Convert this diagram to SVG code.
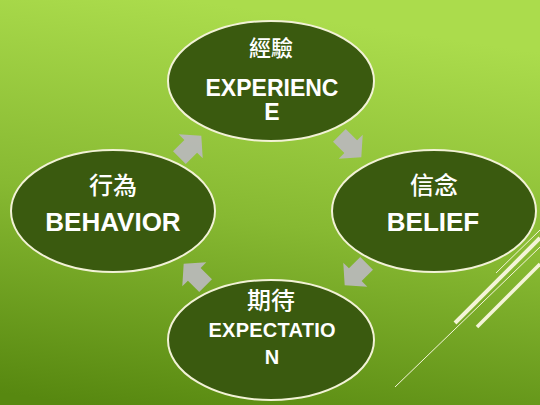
<svg xmlns="http://www.w3.org/2000/svg" width="540" height="405" viewBox="0 0 540 405">
  <defs>
    <linearGradient id="bg" x1="0.35" y1="0" x2="0.15" y2="1">
      <stop offset="0" stop-color="#abdc4c"/>
      <stop offset="0.5" stop-color="#87b932"/>
      <stop offset="1" stop-color="#578810"/>
    </linearGradient>
    <path id="arr" d="M -15 -9 L 1 -9 L 1 -17 L 16 0 L 1 17 L 1 9 L -15 9 Z"/>
  </defs>
  <style>
    .node { fill: #3a5a0f; stroke: #f2f2d6; stroke-width: 2; }
    .en { fill: #ffffff; font-family: "Liberation Sans", Arial, sans-serif; font-weight: bold; text-anchor: middle; }
    .zh { fill: #ffffff; font-family: "Noto Sans CJK TC", "Noto Sans CJK SC", sans-serif; font-weight: 500; text-anchor: middle; }
    .arrow { fill: #b8b8b8; fill-opacity: 0.95; }
    .deco { stroke: #f4f4d8; fill: none; }
  </style>
  <rect x="0" y="0" width="540" height="405" fill="url(#bg)"/>
  <g id="decor">
    <line class="deco" x1="395" y1="387" x2="540" y2="247" stroke-width="1"/>
    <line class="deco" x1="455" y1="323" x2="540" y2="238" stroke-width="4"/>
    <line class="deco" x1="477" y1="327" x2="540" y2="264" stroke-width="3.5"/>
    <line class="deco" x1="496" y1="273" x2="540" y2="230" stroke-width="1"/>
  </g>
  <g id="connectors">
    <use href="#arr" class="arrow" transform="translate(190,147) rotate(-45)"/>
    <use href="#arr" class="arrow" transform="translate(350,146) rotate(45)"/>
    <use href="#arr" class="arrow" transform="translate(356,274) rotate(135)"/>
    <use href="#arr" class="arrow" transform="translate(195,275) rotate(-135)"/>
  </g>
  <g id="experience">
    <ellipse class="node" cx="271" cy="81" rx="103" ry="60"/>
    <text class="zh" x="271" y="56" font-size="22">經驗</text>
    <text class="en" x="272" y="96" font-size="23">EXPERIENC</text>
    <text class="en" x="272" y="120" font-size="23">E</text>
  </g>
  <g id="behavior">
    <ellipse class="node" cx="113" cy="211" rx="102" ry="61"/>
    <text class="zh" x="113" y="194" font-size="24">行為</text>
    <text class="en" x="113" y="231" font-size="26">BEHAVIOR</text>
  </g>
  <g id="belief">
    <ellipse class="node" cx="434" cy="211" rx="102" ry="61"/>
    <text class="zh" x="434" y="194" font-size="24">信念</text>
    <text class="en" x="433" y="231" font-size="26">BELIEF</text>
  </g>
  <g id="expectation">
    <ellipse class="node" cx="271" cy="340" rx="103" ry="60"/>
    <text class="zh" x="271" y="309" font-size="24">期待</text>
    <text class="en" x="272" y="337" font-size="20" textLength="127" lengthAdjust="spacing">EXPECTATIO</text>
    <text class="en" x="272" y="364" font-size="20">N</text>
  </g>
</svg>
